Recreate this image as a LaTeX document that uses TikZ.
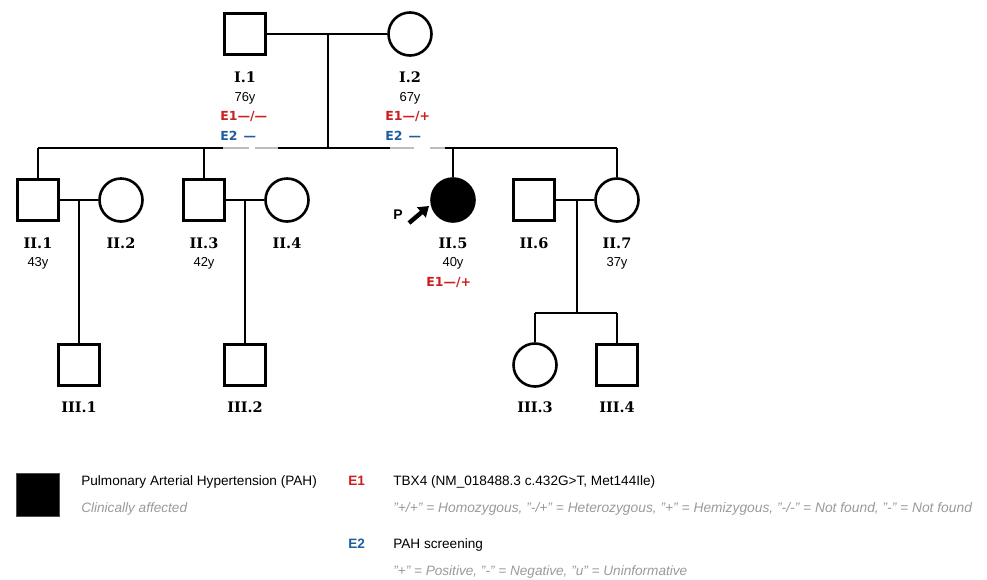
\documentclass[tikz,border=0pt]{standalone}
\usepackage{fontspec}
\setmainfont{Liberation Sans}
\newfontfamily\idfont{DejaVu Serif}
\newfontfamily\efont{DejaVu Sans}
\usetikzlibrary{arrows.meta}
\definecolor{ered}{HTML}{CC1F1F}
\definecolor{eblue}{HTML}{1F5E9E}
\definecolor{lgray}{HTML}{9A9A9A}
\definecolor{linegray}{HTML}{BDBDBD}
\begin{document}
\begin{tikzpicture}[x=1pt,y=-1pt,line width=2.6pt,
  male/.style={draw,rectangle,minimum size=41pt,inner sep=0pt,line width=2.6pt},
  female/.style={draw,circle,minimum size=43pt,inner sep=0pt,line width=2.6pt},
  idlab/.style={anchor=base,inner sep=0pt,font=\idfont\bfseries\fontsize{14.5}{17}\selectfont},
  agelab/.style={anchor=base,inner sep=0pt,font=\fontsize{13}{15}\selectfont},
  eonelab/.style={anchor=base west,inner sep=0pt,text=ered,font=\efont\bfseries\fontsize{12.5}{15}\selectfont},
  etwolab/.style={anchor=base west,inner sep=0pt,text=eblue,font=\efont\bfseries\fontsize{12.5}{15}\selectfont},
  legtext/.style={anchor=base west,inner sep=0pt,font=\fontsize{13.6}{16}\selectfont},
  legnote/.style={anchor=base west,inner sep=0pt,text=lgray,font=\itshape\fontsize{13.6}{16}\selectfont},
  legkey/.style={anchor=base west,inner sep=0pt,font=\bfseries\fontsize{13.6}{16}\selectfont},
  link/.style={draw,line width=2.6pt}]
\useasboundingbox (0,0) rectangle (987,579);

% Generation I
\node[male] (I1) at (245,34) {};
\node[female] (I2) at (410,34) {};
\coordinate (m1) at (328,34);
\coordinate (s1) at (328,148);
\draw[link] (I1.east) -- (I2.west);
\draw[link] (m1) -- (s1);

% Generation II
\node[male] (II1) at (38,200) {};
\node[female] (II2) at (121,200) {};
\node[male] (II3) at (204,200) {};
\node[female] (II4) at (287,200) {};
\node[female,fill=black] (II5) at (453,200) {};
\node[male] (II6) at (534,200) {};
\node[female] (II7) at (617,200) {};

\coordinate (sl) at (38,148);
\coordinate (sr) at (617,148);
\draw[link] (sl) -- (sr);
\draw[link] (sl) -- (II1.north);
\draw[link] (II3.north |- sl) -- (II3.north);
\draw[link] (II5.north |- sl) -- (II5.north);
\draw[link] (sr) -- (II7.north);

% label overlays on sibship line
\draw[linegray,line width=2.6pt] (223,148) -- (249,148);
\draw[white,line width=2.8pt] (249,148) -- (255,148);
\draw[linegray,line width=2.6pt] (255,148) -- (278,148);
\draw[linegray,line width=2.6pt] (390,148) -- (414,148);
\draw[white,line width=2.8pt] (414,148) -- (430,148);
\draw[linegray,line width=2.6pt] (430,148) -- (445,148);

% couples generation II
\draw[link] (II1.east) -- (II2.west);
\draw[link] (II3.east) -- (II4.west);
\draw[link] (II6.east) -- (II7.west);
\coordinate (m21) at (79,200);
\coordinate (m23) at (245,200);
\coordinate (m26) at (577,200);

% Generation III
\node[male] (III1) at (79,365) {};
\node[male] (III2) at (245,365) {};
\node[female] (III3) at (535,365) {};
\node[male] (III4) at (617,365) {};
\draw[link] (m21) -- (III1.north);
\draw[link] (m23) -- (III2.north);
\coordinate (s26) at (577,313);
\coordinate (s26l) at (535,313);
\coordinate (s26r) at (617,313);
\draw[link] (m26) -- (s26);
\draw[link] (s26l) -- (s26r);
\draw[link] (s26l) -- (III3.north);
\draw[link] (s26r) -- (III4.north);

% proband arrow
\node[anchor=base west,inner sep=0pt,font=\bfseries\fontsize{14}{16}\selectfont] (P) at (392,219) {P};
\coordinate (ptail) at (409,223);
\coordinate (phead) at (429,206);
\draw[line width=4.4pt,-{Triangle[length=10pt,width=13pt]}] (ptail) -- (phead);

% labels generation I
\node[idlab] (lI1) at (245,82.7) {I.1};
\node[agelab] (aI1) at (245,101.5) {76y};
\node[eonelab] (eI1) at (219,120.5) {E1—/—};
\node[etwolab] (fI1) at (219,140) {E2\hspace{6pt}—};
\node[idlab] (lI2) at (410,82.7) {I.2};
\node[agelab] (aI2) at (410,101.5) {67y};
\node[eonelab] (eI2) at (384,120.5) {E1—/+};
\node[etwolab] (fI2) at (384,140) {E2\hspace{6pt}—};

% labels generation II
\node[idlab] (lII1) at (38,248.3) {II.1};
\node[agelab] (aII1) at (38,266.5) {43y};
\node[idlab] (lII2) at (121,248.3) {II.2};
\node[idlab] (lII3) at (204,248.3) {II.3};
\node[agelab] (aII3) at (204,266.5) {42y};
\node[idlab] (lII4) at (287,248.3) {II.4};
\node[idlab] (lII5) at (453,248.3) {II.5};
\node[agelab] (aII5) at (453,266.5) {40y};
\node[eonelab] (eII5) at (425,286.5) {E1—/+};
\node[idlab] (lII6) at (534,248.3) {II.6};
\node[idlab] (lII7) at (617,248.3) {II.7};
\node[agelab] (aII7) at (617,266.5) {37y};

% labels generation III
\node[idlab] (lIII1) at (79,412.5) {III.1};
\node[idlab] (lIII2) at (245,412.5) {III.2};
\node[idlab] (lIII3) at (535,412.5) {III.3};
\node[idlab] (lIII4) at (617,412.5) {III.4};

% legend
\node[draw=black!70,fill=black,line width=0.8pt,minimum size=43pt,inner sep=0pt] (legsq) at (38,494.5) {};
\node[legtext] (lt1) at (80,485.7) {Pulmonary Arterial Hypertension (PAH)};
\node[legnote] (ln1) at (80,512.7) {Clinically affected};
\node[legkey,text=ered] (k1) at (347,485.7) {E1};
\node[legtext] (lt2) at (392,485.7) {TBX4 (NM\_018488.3 c.432G>T, Met144Ile)};
\node[legnote,font=\itshape\fontsize{13.8}{16}\selectfont] (ln2) at (392,512.7) {"+/+" = Homozygous, "-/+" = Heterozygous, "+" = Hemizygous, "-/-" = Not found, "-" = Not found};
\node[legkey,text=eblue] (k2) at (347,548.3) {E2};
\node[legtext] (lt3) at (392,548.3) {PAH screening};
\node[legnote] (ln3) at (392,575) {"+" = Positive, "-" = Negative, "u" = Uninformative};
\end{tikzpicture}
\end{document}
